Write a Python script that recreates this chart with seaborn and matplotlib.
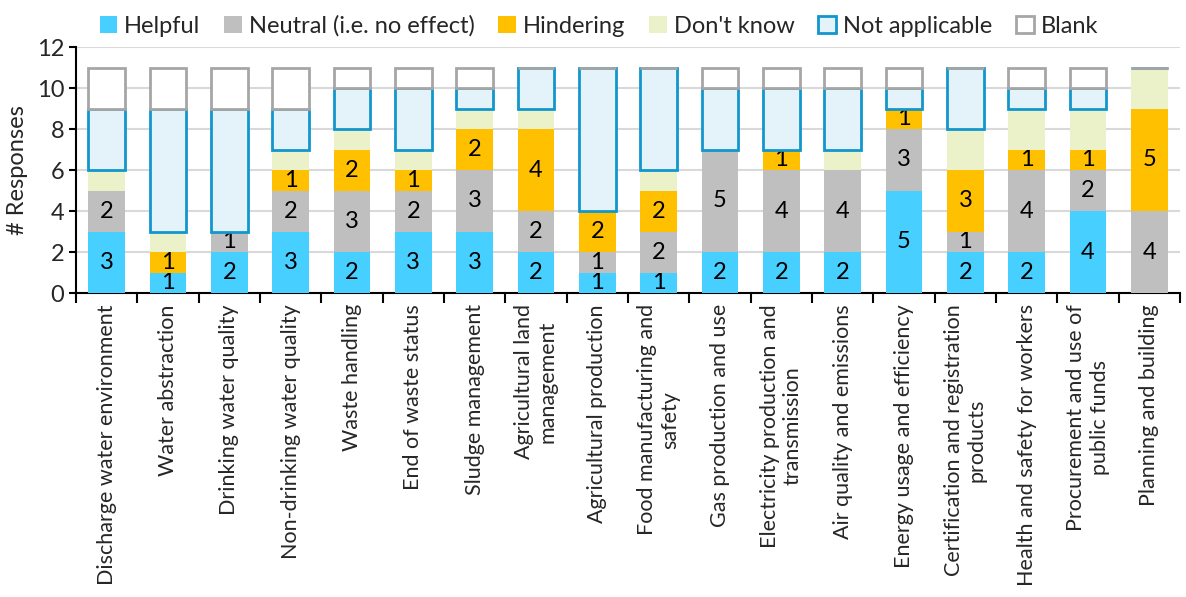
import numpy as np
import matplotlib
matplotlib.use("Agg")
import matplotlib.pyplot as plt
import seaborn as sns
from matplotlib.patches import Patch
from matplotlib.ticker import FixedLocator

categories = [
    "Discharge water environment", "Water abstraction", "Drinking water quality",
    "Non-drinking water quality", "Waste handling", "End of waste status",
    "Sludge management", "Agricultural land\nmanagement", "Agricultural production",
    "Food manufacturing and\nsafety", "Gas production and use",
    "Electricity production and\ntransmission", "Air quality and emissions",
    "Energy usage and efficiency", "Certification and registration\nproducts",
    "Health and safety for workers", "Procurement and use of\npublic funds",
    "Planning and building",
]
helpful = [3, 1, 2, 3, 2, 3, 3, 2, 1, 1, 2, 2, 2, 5, 2, 2, 4, 0]
neutral = [2, 0, 1, 2, 3, 2, 3, 2, 1, 2, 5, 4, 4, 3, 1, 4, 2, 4]
hindering = [0, 1, 0, 1, 2, 1, 2, 4, 2, 2, 0, 1, 0, 1, 3, 1, 1, 5]
dont_know = [1, 1, 0, 1, 1, 1, 1, 1, 0, 1, 0, 0, 1, 0, 2, 2, 2, 2]
not_applicable = [3, 6, 6, 2, 2, 3, 1, 2, 7, 5, 3, 3, 3, 1, 3, 1, 1, 0]
blank = [2, 2, 2, 2, 1, 1, 1, 0, 0, 0, 1, 1, 1, 1, 0, 1, 1, 0]

series = [
    ("Helpful", helpful, "#47CFFF", "#47CFFF", True),
    ("Neutral (i.e. no effect)", neutral, "#BFBFBF", "#BFBFBF", True),
    ("Hindering", hindering, "#FFC000", "#FFC000", True),
    ("Don't know", dont_know, "#EBF1C8", "#EBF1C8", False),
    ("Not applicable", not_applicable, "#E4F3FA", "#1296CC", False),
    ("Blank", blank, "#FFFFFF", "#A6A6A6", False),
]

sns.set_theme(style="white")
plt.rcParams["font.family"] = ["Lato", "DejaVu Sans"]

fig, ax = plt.subplots(figsize=(11.86, 5.97), dpi=100)
fig.subplots_adjust(left=0.064, right=0.995, bottom=0.509, top=0.921)

bottom = np.zeros(len(categories))
handles = []
for name, vals, fc, ec, show in series:
    vals = np.array(vals, dtype=float)
    lw = 0 if fc == ec else 2
    n_before = len(ax.containers)
    sns.barplot(x=categories, y=vals, bottom=bottom, color=fc, saturation=1,
                edgecolor=ec, linewidth=lw, width=0.6, errorbar=None, ax=ax,
                zorder=3)
    cont = ax.containers[n_before]
    if show:
        labels = [str(int(v)) if v > 0 else "" for v in vals]
        ax.bar_label(cont, labels=labels, label_type="center", fontsize=17,
                     color="black")
    bottom += vals
    handles.append(Patch(facecolor=fc, edgecolor=ec, linewidth=lw if lw else 0,
                         label=name))

ax.set_ylim(0, 12)
ax.set_yticks(range(0, 13, 2))
ax.set_xlim(-0.5, len(categories) - 0.5)
ax.grid(axis="y", color="#D9D9D9", linewidth=1.5, zorder=0)
ax.set_axisbelow(True)
for s in ["top", "right"]:
    ax.spines[s].set_visible(False)
for s in ["left", "bottom"]:
    ax.spines[s].set_color("black")
    ax.spines[s].set_linewidth(1.5)

ax.set_xticks(range(len(categories)))
ax.set_xticklabels(categories, rotation=90, ha="center", va="top",
                   multialignment="center", fontsize=15.5)
ax.tick_params(axis="x", which="major", length=0, pad=8)
ax.xaxis.set_minor_locator(FixedLocator(np.arange(-0.5, len(categories), 1)))
ax.tick_params(axis="x", which="minor", length=7, width=1.5, color="black",
               bottom=True)
ax.tick_params(axis="y", length=5, width=1.5, color="black", left=True,
               labelsize=17)
ax.set_ylabel("# Responses", fontsize=17, labelpad=6)
ax.set_xlabel("")

fig.legend(handles=handles, loc="upper center", ncol=6, frameon=False,
           bbox_to_anchor=(0.505, 1.01), fontsize=17, handlelength=0.75,
           handleheight=0.75, handletextpad=0.3, columnspacing=1.0)

fig.savefig("out.png", dpi=100)
